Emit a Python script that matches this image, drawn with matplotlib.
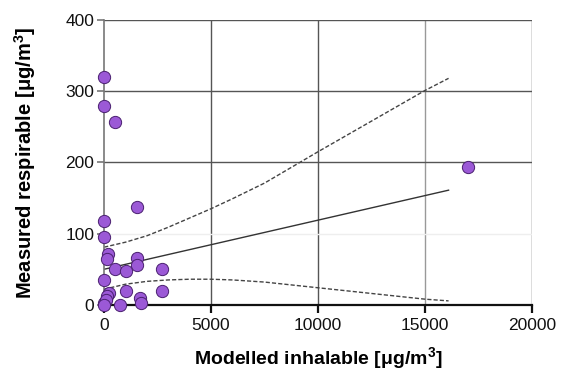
import matplotlib
matplotlib.use('Agg')
import matplotlib.pyplot as plt

plt.rcParams['font.family'] = ['Liberation Sans', 'DejaVu Sans']

# measured points (modelled inhalable vs measured respirable)
inhal = [0, 0, 510, 1530, 0, 0, 200, 120, 1530, 1530, 510, 1030, 2700, 0,
         250, 1030, 2700, 150, 0, 80, 750, 1680, 1730, 0, 17000]
resp = [320, 279, 256, 137, 118, 95, 72, 64, 66, 56, 51, 47, 50, 35,
        17, 20, 20, 13, 3, 7, 0, 9, 3, 0, 193]

# regression line and confidence band
fit_x = [0, 16100]
fit_y = [50, 161]
band_x = [0, 1000, 2000, 3000, 4000, 5000, 6000, 7500, 10000, 12500, 15000, 16100]
band_hi = [81, 88, 97, 109, 122, 135, 149, 171, 215, 258, 301, 318]
band_lo = [22, 29, 33, 35, 36, 36, 35, 32, 24, 16, 8, 5.6]

fig = plt.figure(figsize=(5.69, 3.83), dpi=100)
ax = fig.add_axes([0.183, 0.204, 0.752, 0.744])

ax.set_xlim(0, 20000)
ax.set_ylim(0, 400)
ax.set_xticks([0, 5000, 10000, 15000, 20000])
ax.set_yticks([0, 100, 200, 300, 400])

ax.grid(True, color='#555555', linewidth=1.0)
for i, gl in enumerate(ax.get_ygridlines()):
    if i == 0:
        gl.set_visible(False)
    if i == 1:
        gl.set_color('#eeeeee')
for i, gl in enumerate(ax.get_xgridlines()):
    if i == 0:
        gl.set_visible(False)
    if i == 3:
        gl.set_color('#999999')
ax.set_axisbelow(True)

ax.plot(fit_x, fit_y, color='#333333', linewidth=1.0)
ax.plot(band_x, band_hi, color='#444444', linewidth=1.0, linestyle=(0, (3, 1.5)))
ax.plot(band_x, band_lo, color='#444444', linewidth=1.0, linestyle=(0, (3, 1.5)))

ax.scatter(inhal, resp, s=78, color='#9b59d6', edgecolor='#4a2070',
           linewidth=0.7, zorder=5, clip_on=False)

for side in ['top', 'right']:
    ax.spines[side].set_visible(False)
ax.spines['left'].set_color('#777777')
ax.spines['left'].set_linewidth(1.2)
ax.spines['bottom'].set_color('#111111')
ax.spines['bottom'].set_linewidth(1.6)
ax.tick_params(axis='y', colors='#111111', labelsize=12.5, length=5, width=1.2, pad=2)
ax.tick_params(axis='y', color='#777777')
ax.tick_params(axis='x', colors='#111111', labelsize=12.5, length=6, width=1.6)

ax.set_xlabel('Modelled inhalable [\u03bcg/m$^\\mathregular{3}$]', fontsize=14,
              fontweight='bold', labelpad=9)
ax.set_ylabel('Measured respirable [\u03bcg/m$^\\mathregular{3}$]', fontsize=14.5,
              fontweight='bold', labelpad=20)

fig.savefig('out.png', dpi=100)
